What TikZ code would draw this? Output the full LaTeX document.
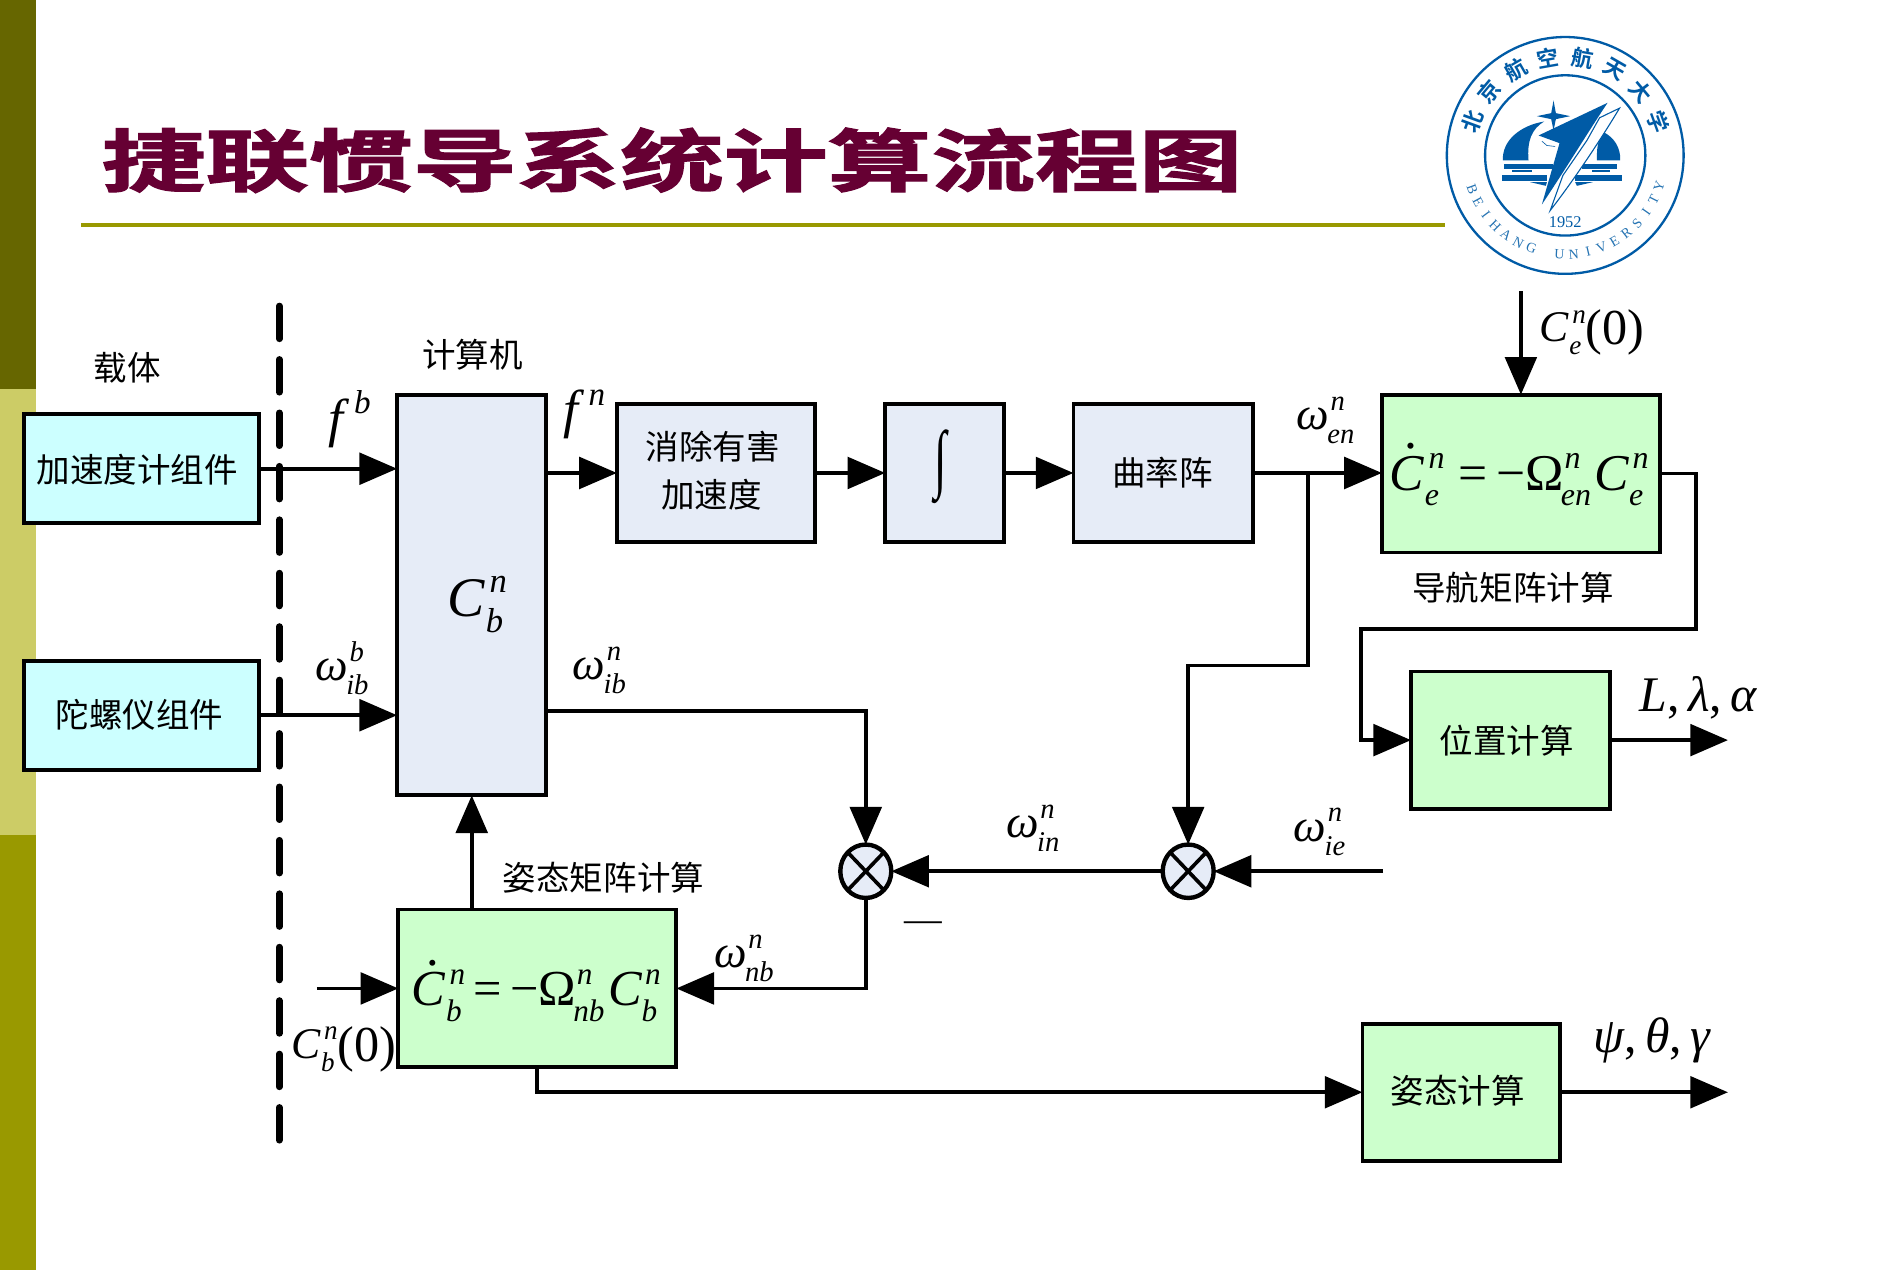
\documentclass[tikz,border=0pt]{standalone}
\usepackage{fontspec}
\usetikzlibrary{arrows.meta,shapes.geometric}
\setmainfont{Liberation Serif}
\newfontfamily\cjk{Noto Sans CJK SC}
\newfontfamily\cjkb[UprightFont=* Bold]{Noto Sans CJK SC}
\newfontfamily\cjkt[UprightFont=* Bold,FakeBold=1.6]{Noto Sans CJK SC}
\definecolor{bluebox}{HTML}{E6ECF7}
\definecolor{cyanbox}{HTML}{CCFFFF}
\definecolor{greenbox}{HTML}{CCFFCC}
\definecolor{oliveA}{HTML}{666600}
\definecolor{oliveB}{HTML}{CCCC66}
\definecolor{oliveC}{HTML}{999900}
\definecolor{titlec}{HTML}{660033}
\definecolor{bh}{HTML}{005BA6}
\newcommand\sz[1]{\fontsize{#1}{#1}\selectfont\def\cursz{#1}}
\newcommand\sm{\fontsize{\fpeval{\cursz*0.62}}{\fpeval{\cursz*0.62}}\selectfont\itshape}
% \sym[kern after the base]{base}{sup}{sub}
\newcommand\sym[4][.09em]{{\itshape #2}\kern#1\begingroup\sbox0{\sm #3}\sbox2{\sm #4}%
 \dimen0=\wd0 \ifdim\wd2>\dimen0 \dimen0=\wd2 \fi
 \makebox[\dimen0][l]{\raisebox{.42em}{\usebox0}\kern-\wd0\kern-.07em\raisebox{-.3em}{\usebox2}}\endgroup}
\newcommand\dotted[1]{\makebox[0pt][l]{\kern.30em\raisebox{.80em}{.}}#1}
\newcommand\bigp[1]{{\fontsize{\fpeval{\cursz*1.15}}{\cursz}\selectfont\raisebox{-.06em}{#1}}}
\tikzset{
 conn/.style={line width=3.1pt,line join=miter,-{Triangle[length=31pt,width=26pt]}},
 block/.style={draw,line width=3.2pt,inner sep=0pt,outer sep=0pt,align=center},
 blue/.style={block,fill=bluebox},
 cyanb/.style={block,fill=cyanbox},
 greenb/.style={block,fill=greenbox},
 lab/.style={inner sep=0pt,align=center,font=\cjk\sz{27.6}},
 mlab/.style={inner sep=0pt,font=\sz{#1}},
 mixer/.style={ellipse,draw,line width=3.6pt,fill=bluebox,inner sep=0pt,outer sep=0pt,minimum width=42pt,minimum height=44pt},
}
\begin{document}
\begin{tikzpicture}[x=1pt,y=-1pt]
\useasboundingbox (0,0) rectangle (1568,1046);
\fill[white] (0,0) rectangle (1568,1046);
% sidebar
\fill[oliveA] (0,0) rectangle (30,320);
\fill[oliveB] (0,320) rectangle (30,688);
\fill[oliveC] (0,688) rectangle (30,1046);
% title
\node[inner sep=0pt,text=titlec,xscale=1.525,transform shape,font=\cjkt\sz{56}] (title) at (553.5,132) {捷联惯导系统计算流程图};
\coordinate (ruleL) at (67,185.5);
\coordinate (ruleR) at (1190,185.5);
\draw[oliveC,line width=3pt] (ruleL) -- (ruleR);
% logo
\draw[bh,line width=1.9pt] (1289,128) circle (97.5);
\draw[bh,line width=1.9pt] (1289,128) circle (66);
\foreach \c [count=\i from 0] in {北,京,航,空,航,天,大,学}{
 \pgfmathsetmacro\a{160-20*\i}
 \pgfmathsetmacro\r{\a-90}
 \node[inner sep=0pt,text=bh,rotate=\r,font=\cjkb\sz{18}] at ({1289+81.5*cos(\a)},{128-81.5*sin(\a)}) {\c};
}
\foreach \c [count=\i from 0] in {B,E,I,H,A,N,G,{ },U,N,I,V,E,R,S,I,T,Y}{
 \pgfmathsetmacro\a{200+8.33*\i}
 \pgfmathsetmacro\r{\a+90}
 \node[inner sep=0pt,text=bh!85,rotate=\r,font=\sz{11.5}] at ({1289+81.5*cos(\a)},{128-81.5*sin(\a)}) {\c};
}
\node[inner sep=0pt,text=bh,font=\sz{13.5}] (yr) at (1289,183) {1952};
\begin{scope}[shift={(1153.1,0.4)},x=0.2745pt,y=-0.2745pt]
 \fill[bh] (308,480) .. controls (305,420) and (360,375) .. (432,363) .. controls (395,385) and (380,420) .. (385,480) -- cycle;
 \fill[bh] (590,480) .. controls (590,450) and (590,420) .. (610,395) .. controls (640,410) and (662,440) .. (660,480) -- cycle;
 \fill[bh] (310,490) rectangle (458,507);
 \fill[bh] (305,525) rectangle (440,541);
 \fill[bh] (545,490) rectangle (650,507);
 \fill[bh] (525,525) rectangle (665,541);
 \fill[bh] (335,510) rectangle (395,516);
 \fill[bh] (575,510) rectangle (630,516);
 \fill[bh] (390,545) -- (440,545) -- (437,556) -- cycle;
 \fill[bh] (525,545) -- (578,545) -- (530,556) -- cycle;
 \fill[bh] (460,300) -- (467,338) -- (510,347) -- (467,356) -- (460,390) -- (453,356) -- (410,347) -- (453,338) -- cycle;
 \fill[bh] (622,307) -- (415,405) -- (478,428) -- (425,612) .. controls (500,500) and (560,400) .. (622,307) -- cycle;
 \filldraw[fill=white,draw=bh,line width=.9pt] (658,323) -- (598,352) -- (560,420) -- (488,525) -- (450,630) .. controls (520,540) and (600,420) .. (658,323) -- cycle;
 \draw[bh,line width=.5pt] (425,422) -- (440,435) -- (465,438);
\end{scope}
% boxes
\node[cyanb,minimum width=193pt,minimum height=90pt] (acc) at (116.5,386) {};
\node[cyanb,minimum width=193pt,minimum height=90pt] (gyr) at (116.5,589) {};
\node[lab] (acctext) at (113,387) {加速度计组件};
\node[lab] (gyrtext) at (115,589) {陀螺仪组件};
\node[blue,minimum width=123pt,minimum height=330pt] (cnb) at (388.5,490) {};
\node[blue,minimum width=163pt,minimum height=113pt] (xiao) at (589.5,389.5) {};
\node[lab] (x1t) at (587,368) {消除有害};
\node[lab] (x2t) at (586,407) {加速度};
\node[blue,minimum width=98pt,minimum height=113pt] (intg) at (778,389.5) {};
\node[blue,minimum width=148pt,minimum height=113pt] (qu) at (958,389.5) {};
\node[lab] (qut) at (957.5,389) {曲率阵};
\node[greenb,minimum width=229pt,minimum height=130pt] (cen) at (1252.5,390) {};
\node[greenb,minimum width=164pt,minimum height=113pt] (pos) at (1244,609.5) {};
\node[lab] (post) at (1241,610) {位置计算};
\node[greenb,minimum width=163pt,minimum height=113pt] (zt) at (1203.5,899.5) {};
\node[lab] (ztt) at (1200.5,898) {姿态计算};
\node[greenb,minimum width=229pt,minimum height=130pt] (att) at (442.5,814) {};
\node[mixer] (m1) at (713,717.5) {};
\node[mixer] (m2) at (978.5,717.5) {};
\draw[line width=3pt] (m1.north west) -- (m1.south east) (m1.north east) -- (m1.south west);
\draw[line width=3pt] (m2.north west) -- (m2.south east) (m2.north east) -- (m2.south west);
% free ends
\coordinate (dashT) at (230,252);
\coordinate (dashB) at (230,942);
\coordinate (ce0) at (1252.5,240);
\coordinate (cb0) at (261,814);
\coordinate (wie) at (1139,717.5);
\coordinate (posout) at (1423,609.5);
\coordinate (ztout) at (1423,899.5);
\coordinate (br) at (1077,389.5);
% connectors
\draw[conn] (acc.east) -- (acc.east -| cnb.west);
\draw[conn] (gyr.east) -- (gyr.east -| cnb.west);
\draw[conn] (xiao.west -| cnb.east) -- (xiao.west);
\draw[conn] (xiao.east) -- (intg.west);
\draw[conn] (intg.east) -- (qu.west);
\draw[conn] (qu.east) -- (qu.east -| cen.west);
\draw[conn] (ce0) -- (cen.north);
\draw[conn] (cen.east) -- (1397,390) -- (1397,518) -- (1121,518) -- (1121,609.5) -- (pos.west);
\draw[conn] (pos.east) -- (posout);
\draw[conn] (br) -- (1077,548) -- (978.5,548) -- (m2.north);
\draw[conn] (wie) -- (m2.east);
\draw[conn] (m2.west) -- (m1.east);
\draw[conn] (cnb.east |- 0,585.5) -- (713,585.5) -- (m1.north);
\draw[conn] (m1.south) -- (713,814) -- (att.east);
\draw[conn] (att.north -| cnb.south) -- (cnb.south);
\draw[conn] (cb0) -- (att.west);
\draw[conn] (att.south) -- (442.5,899.5) -- (zt.west);
\draw[conn] (zt.east) -- (ztout);
\draw[line width=5.5pt,line cap=round,dash pattern=on 27pt off 17pt] (dashT) -- (dashB);
% labels
\node[lab] (zaiti) at (105,303) {载体};
\node[lab] (jsj) at (389,292) {计算机};
\node[lab] (dhjz) at (1246,484) {导航矩阵计算};
\node[lab] (ztjz) at (497,723) {姿态矩阵计算};
\node[mlab=44] (fb) at (288,347) {\sym[.2em]{f}{b}{\,}};
\node[mlab=44] (fn) at (481,343) {\sym[.2em]{f}{n}{\,}};
\node[mlab=38] (wib) at (283,550) {\sym[.03em]{ω}{b}{ib}};
\node[mlab=38] (wibn) at (495,552) {\sym[.03em]{ω}{n}{ib}};
\node[mlab=46] (cbn) at (393,498) {\sym{C}{n}{b}};
\node[mlab=38] (wen) at (1093,346) {\sym[.03em]{ω}{n}{en}};
\node[mlab=38] (win) at (852,682) {\sym[.03em]{ω}{n}{in}};
\node[mlab=38] (wiet) at (1088,685) {\sym[.03em]{ω}{n}{ie}};
\node[mlab=38] (wnb) at (614,789) {\sym[.03em]{ω}{n}{nb}};
\node[mlab=36] (ce0t) at (1311,274) {\sym{C}{n}{e}\bigp{(0)}};
\node[mlab=36] (cb0t) at (283,864) {\sym{C}{n}{b}\bigp{(0)}};
\node[mlab=41] (llb) at (1399,575) {\textit{L},\,\textit{λ},\,\textit{α}};
\node[mlab=41] (pt) at (1361,857) {\textit{ψ},\,\textit{θ},\,\textit{γ}};
\node[mlab=42.5] (ceq) at (1251,391) {\dotted{\sym{C}{n}{e}}\;=\,−Ω\kern.01em\sym[0pt]{}{n}{en}\sym[.07em]{C}{n}{e}};
\node[mlab=41.5] (beq) at (441.5,816) {\dotted{\sym{C}{n}{b}}\,=\,−Ω\kern.01em\sym[0pt]{}{n}{nb}\sym[.07em]{C}{n}{b}};
\node[mlab=31] (minus) at (760,763) {—};
\node[mlab=62,xscale=.6,transform shape] (intt) at (775,384) {∫};
\end{tikzpicture}
\end{document}
